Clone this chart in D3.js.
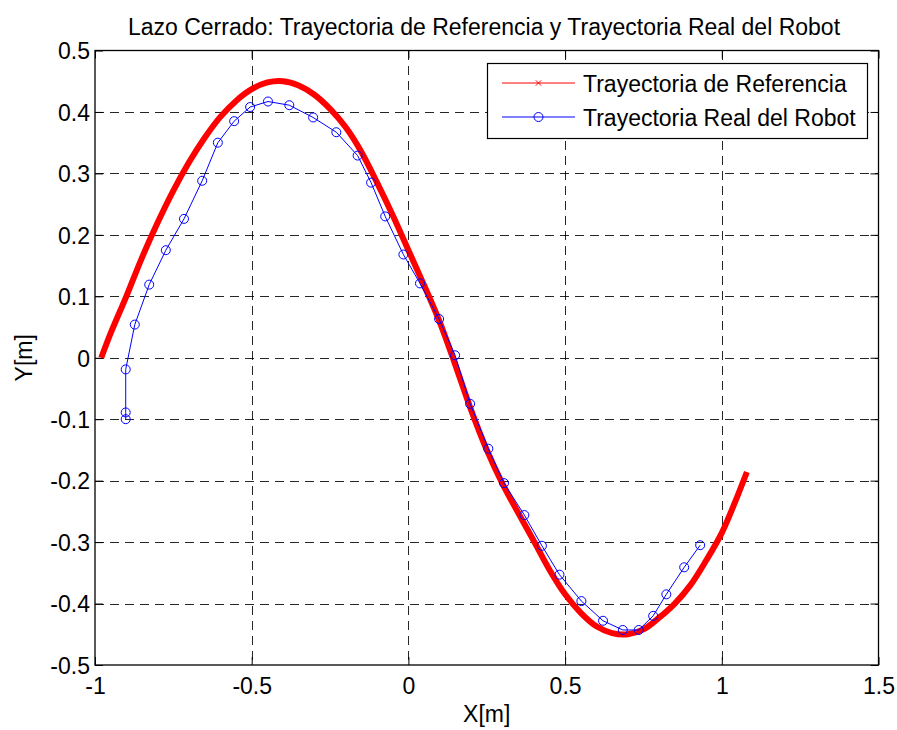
<!DOCTYPE html>
<html>
<head>
<meta charset="utf-8">
<script src="https://cdn.jsdelivr.net/npm/d3@7"></script>
<style>
  html, body { margin: 0; padding: 0; background: #fff; }
  svg text { font-family: "Liberation Sans", Arial, Helvetica, sans-serif; fill: #000; }
</style>
</head>
<body>
<svg id="chart" width="897" height="730"></svg>
<script>
// ---- Data ----
const titleText = "Lazo Cerrado: Trayectoria de Referencia y Trayectoria Real del Robot";
const xLabelText = "X[m]";
const yLabelText = "Y[m]";
const seriesNames = ["Trayectoria de Referencia", "Trayectoria Real del Robot"];

const xTicks = [-1, -0.5, 0, 0.5, 1, 1.5];
const xTickLabels = ["-1", "-0.5", "0", "0.5", "1", "1.5"];
const yTicks = [-0.5, -0.4, -0.3, -0.2, -0.1, 0, 0.1, 0.2, 0.3, 0.4, 0.5];
const yTickLabels = ["-0.5", "-0.4", "-0.3", "-0.2", "-0.1", "0", "0.1", "0.2", "0.3", "0.4", "0.5"];

// Reference trajectory (red)
const refX = [-0.98, -0.95, -0.90, -0.85, -0.80, -0.75, -0.70, -0.65, -0.60, -0.55, -0.50, -0.45, -0.40,
  -0.35, -0.30, -0.25, -0.20, -0.15, -0.10, -0.05, 0.00, 0.05, 0.10, 0.15, 0.20, 0.25, 0.30, 0.35,
  0.40, 0.45, 0.50, 0.55, 0.60, 0.65, 0.70, 0.75, 0.80, 0.85, 0.90, 0.95, 1.00, 1.05, 1.08];
const refY = [0.000, 0.040, 0.100, 0.163, 0.220, 0.272, 0.318, 0.358, 0.392, 0.418, 0.437, 0.448, 0.450,
  0.443, 0.428, 0.405, 0.375, 0.335, 0.285, 0.232, 0.175, 0.118, 0.058, -0.012, -0.085, -0.150, -0.205, -0.252,
  -0.298, -0.345, -0.385, -0.415, -0.437, -0.448, -0.450, -0.442, -0.423, -0.400, -0.370, -0.330, -0.285, -0.225, -0.186];

// Real robot trajectory (blue)
const robotX = [-0.902, -0.902, -0.902, -0.873, -0.827, -0.774, -0.716, -0.658, -0.608, -0.556, -0.505, -0.448,
  -0.380, -0.304, -0.230, -0.162, -0.119, -0.074, -0.016, 0.037, 0.098, 0.149, 0.197, 0.255, 0.305, 0.370,
  0.426, 0.482, 0.552, 0.621, 0.684, 0.735, 0.781, 0.823, 0.880, 0.931];
const robotY = [-0.100, -0.089, -0.019, 0.054, 0.119, 0.175, 0.226, 0.288, 0.350, 0.385, 0.408, 0.417,
  0.411, 0.391, 0.367, 0.329, 0.285, 0.230, 0.168, 0.121, 0.063, 0.004, -0.075, -0.148, -0.204, -0.256,
  -0.306, -0.353, -0.396, -0.428, -0.443, -0.443, -0.420, -0.385, -0.341, -0.305];

// ---- Layout ----
const svg = d3.select("#chart");
const L = 95, R = 878.5, T = 50.5, B = 665;
const x = d3.scaleLinear().domain([-1, 1.5]).range([L, R]);
const y = d3.scaleLinear().domain([-0.5, 0.5]).range([B, T]);
const fontSize = 23;

// Background
svg.append("rect").attr("x", 0).attr("y", 0).attr("width", 897).attr("height", 730).attr("fill", "#fff");
svg.append("rect").attr("x", L).attr("y", T).attr("width", R - L).attr("height", B - T).attr("fill", "#fff");

// Grid lines
const grid = svg.append("g").attr("stroke", "#000").attr("stroke-width", 1).attr("stroke-dasharray", "9,6").attr("shape-rendering", "crispEdges");
grid.selectAll("line.vx").data(xTicks.filter(v => v > -1 && v < 1.5)).join("line")
  .attr("x1", d => Math.round(x(d)) + 0.5).attr("x2", d => Math.round(x(d)) + 0.5)
  .attr("y1", T).attr("y2", B).attr("stroke-opacity", 0.85);
grid.selectAll("line.hy").data(yTicks.filter(v => v > -0.5 && v < 0.5)).join("line")
  .attr("y1", d => Math.round(y(d)) + 0.5).attr("y2", d => Math.round(y(d)) + 0.5)
  .attr("x1", L).attr("x2", R).attr("stroke-opacity", 0.85);

// Axes (MATLAB style, ticks inward on all sides)
const tickLen = 8;
const axB = svg.append("g").attr("transform", `translate(0,${B})`)
  .call(d3.axisBottom(x).tickValues(xTicks).tickFormat((d, i) => xTickLabels[i]).tickSizeInner(-tickLen).tickSizeOuter(0).tickPadding(14));
const axT = svg.append("g").attr("transform", `translate(0,${T})`)
  .call(d3.axisTop(x).tickValues(xTicks).tickFormat("").tickSizeInner(-tickLen).tickSizeOuter(0));
const axLft = svg.append("g").attr("transform", `translate(${L},0)`)
  .call(d3.axisLeft(y).tickValues(yTicks).tickFormat((d, i) => yTickLabels[i]).tickSizeInner(-tickLen).tickSizeOuter(0).tickPadding(14));
const axRt = svg.append("g").attr("transform", `translate(${R},0)`)
  .call(d3.axisRight(y).tickValues(yTicks).tickFormat("").tickSizeInner(-tickLen).tickSizeOuter(0));
[axB, axT, axLft, axRt].forEach(g => {
  g.select(".domain").remove();
  g.selectAll("line").attr("stroke", "#000");
  g.selectAll("text").attr("font-size", fontSize).attr("font-family", "Liberation Sans, Arial, sans-serif").attr("fill", "#000");
});
axB.selectAll("text").attr("dy", "0.71em").attr("y", 13);
axLft.selectAll("text").attr("x", -5).attr("dy", "0.36em");

// Box
svg.append("rect").attr("x", L).attr("y", T).attr("width", R - L).attr("height", B - T)
  .attr("fill", "none").attr("stroke", "#000").attr("stroke-width", 1.3);

// Reference trajectory
const refData = refX.map((v, i) => [v, refY[i]]);
const lineGen = d3.line().x(d => x(d[0])).y(d => y(d[1]));
svg.append("path").datum(refData)
  .attr("d", lineGen.curve(d3.curveCatmullRom))
  .attr("fill", "none").attr("stroke", "#ff0000").attr("stroke-width", 6).attr("stroke-linecap", "butt");

// Robot trajectory
const robotData = robotX.map((v, i) => [v, robotY[i]]);
svg.append("path").datum(robotData)
  .attr("d", d3.line().x(d => x(d[0])).y(d => y(d[1])))
  .attr("fill", "none").attr("stroke", "#0000ff").attr("stroke-width", 1);
svg.append("g").selectAll("circle").data(robotData).join("circle")
  .attr("cx", d => x(d[0])).attr("cy", d => y(d[1])).attr("r", 4.5)
  .attr("fill", "none").attr("stroke", "#0000ff").attr("stroke-width", 1);

// Title and labels
svg.append("text").attr("x", 484).attr("y", 35).attr("text-anchor", "middle")
  .attr("font-size", fontSize).text(titleText);
svg.append("text").attr("x", (L + R) / 2).attr("y", 722).attr("text-anchor", "middle")
  .attr("font-size", fontSize).text(xLabelText);
svg.append("text").attr("transform", `translate(32,${(T + B) / 2}) rotate(-90)`).attr("text-anchor", "middle")
  .attr("font-size", fontSize).text(yLabelText);

// Legend
const lg = svg.append("g");
lg.append("rect").attr("x", 487.5).attr("y", 63.5).attr("width", 380).attr("height", 75)
  .attr("fill", "#fff").attr("stroke", "#000").attr("stroke-width", 1.2);
const legendRows = [
  { name: seriesNames[0], color: "#ff0000", y: 83, marker: "x" },
  { name: seriesNames[1], color: "#0000ff", y: 117, marker: "o" }
];
legendRows.forEach(r => {
  lg.append("line").attr("x1", 502).attr("x2", 575).attr("y1", r.y).attr("y2", r.y)
    .attr("stroke", r.color).attr("stroke-width", 1);
  if (r.marker === "o") {
    lg.append("circle").attr("cx", 538.5).attr("cy", r.y).attr("r", 4.5)
      .attr("fill", "none").attr("stroke", r.color).attr("stroke-width", 1);
  } else {
    lg.append("path").attr("d", d3.symbol(d3.symbolX, 20)())
      .attr("transform", `translate(538.5,${r.y})`).attr("fill", "none").attr("stroke", r.color).attr("stroke-width", 1);
  }
  lg.append("text").attr("x", 583).attr("y", r.y + 8.5).attr("font-size", fontSize).text(r.name);
});
</script>
</body>
</html>
